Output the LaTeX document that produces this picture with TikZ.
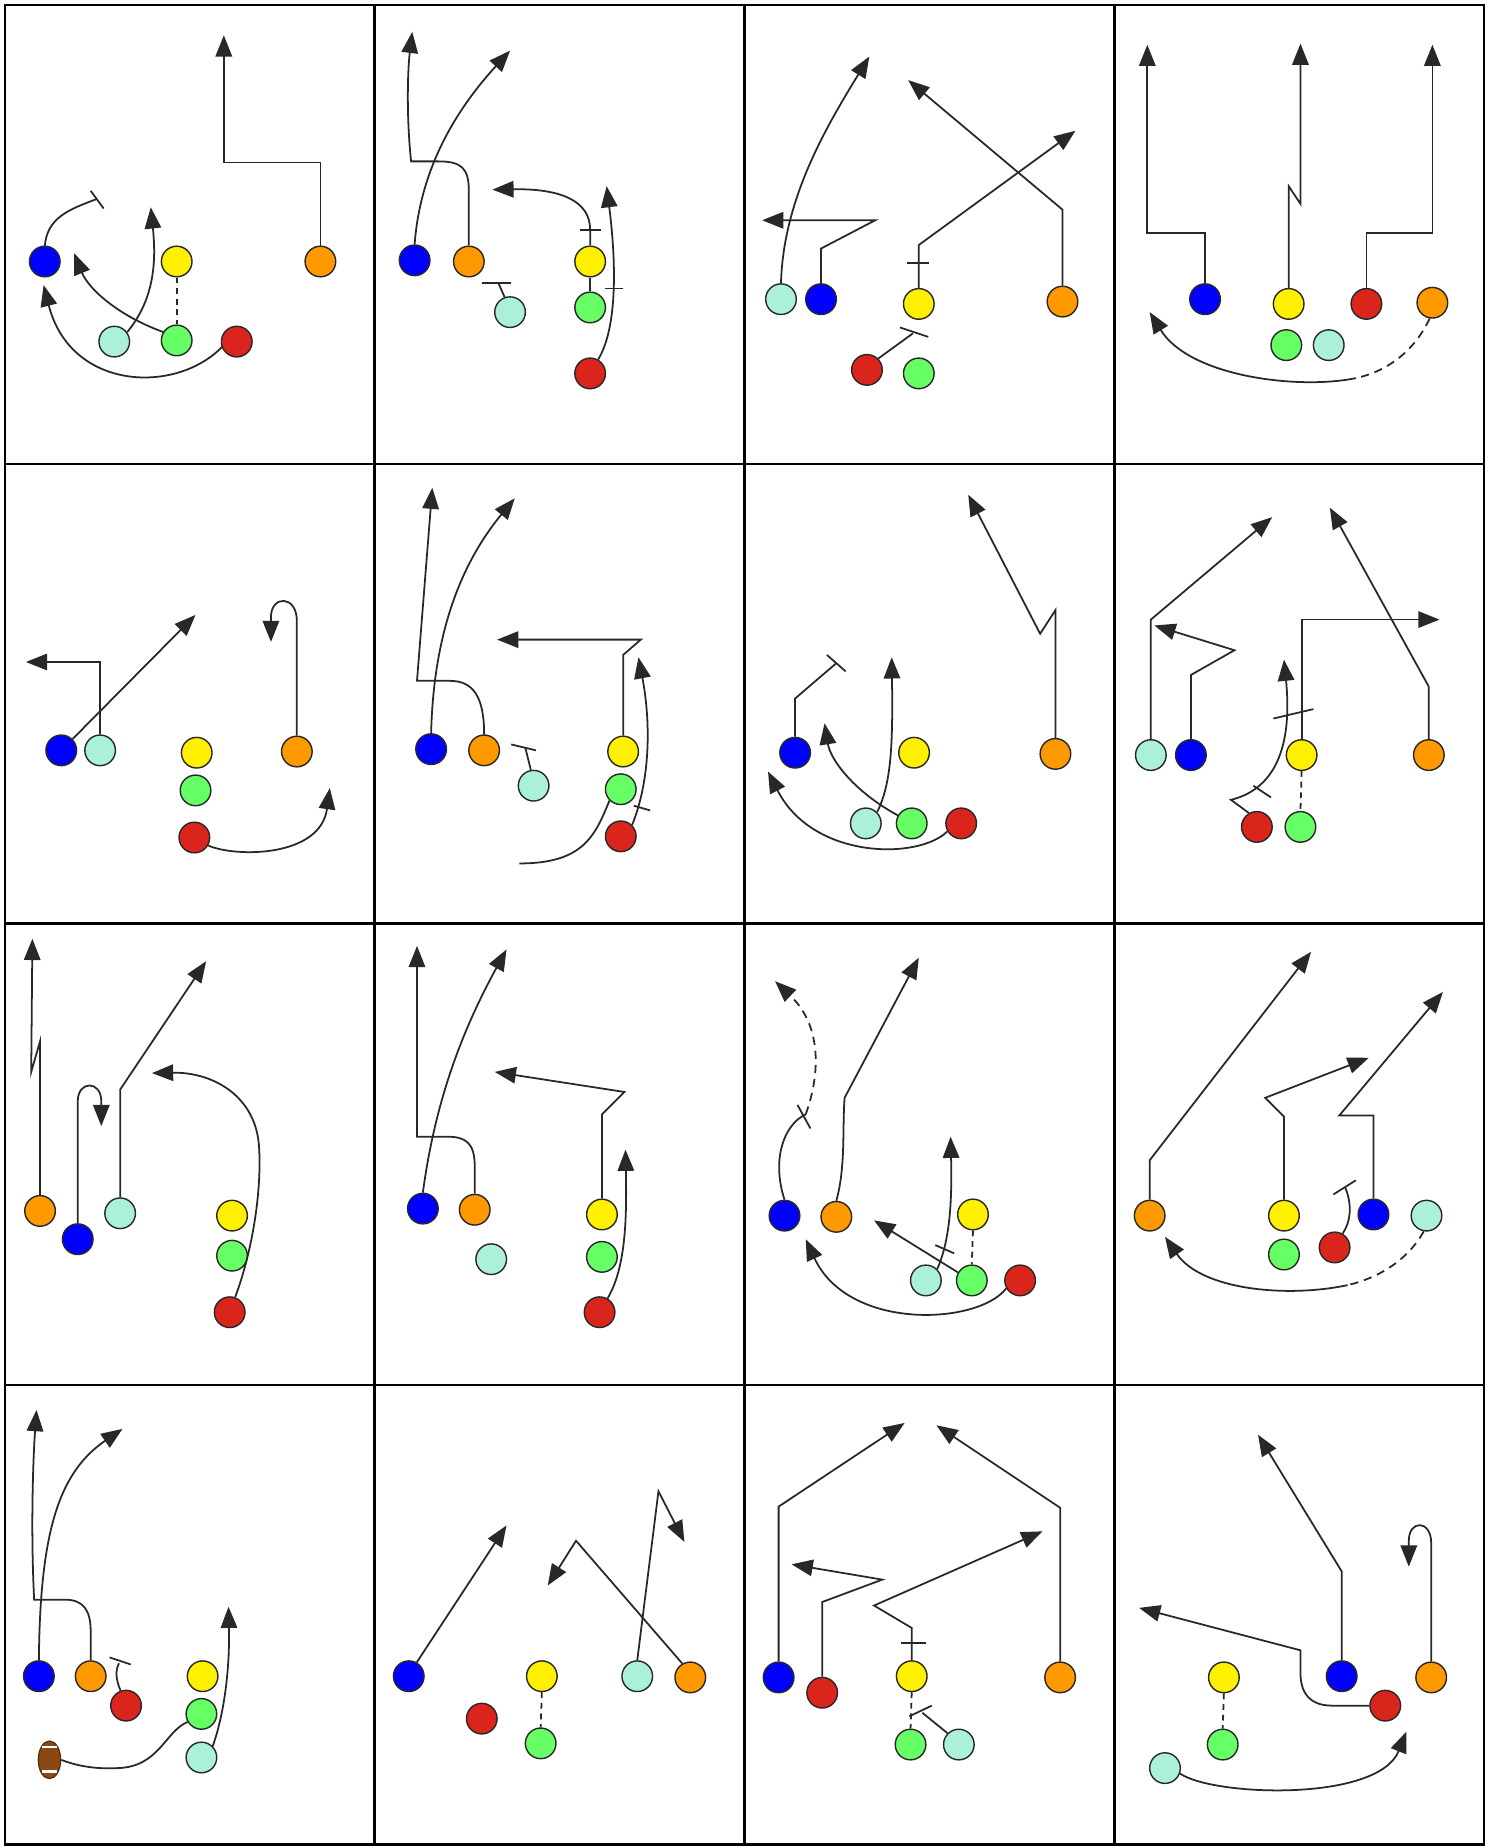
\documentclass[tikz,border=0pt]{standalone}
\usetikzlibrary{arrows.meta,shapes.geometric}
\definecolor{pB}{RGB}{0,0,255}
\definecolor{pY}{RGB}{255,240,0}
\definecolor{pO}{RGB}{255,153,0}
\definecolor{pR}{RGB}{218,37,29}
\definecolor{pG}{RGB}{102,255,102}
\definecolor{pC}{RGB}{170,240,218}
\definecolor{ln}{RGB}{40,40,40}
\definecolor{ballc}{RGB}{139,72,18}
\begin{document}
\begin{tikzpicture}[x=0.5pt,y=-0.5pt,
 pl/.style={circle,draw=ln,line width=0.6pt,minimum size=13pt,inner sep=0pt},
 route/.style={draw=ln,line width=0.75pt},
 arr/.style={route,-{Triangle[length=9pt,width=7pt]}},
 dsh/.style={route,dash pattern=on 2.5pt off 2pt},
 dshb/.style={route,dash pattern=on 3.5pt off 2.5pt},
 gridl/.style={draw=black,line width=1pt},
 ball/.style={ellipse,draw=ballc!60!black,line width=0.5pt,fill=ballc,minimum width=9.5pt,minimum height=16pt,inner sep=0pt}]
\useasboundingbox (0,0) rectangle (1268,1568);
\fill[white] (0,0) rectangle (1268,1568);
% grid
\draw[gridl] (4,4) rectangle (1260,1566);
\draw[gridl] (318,4) -- (318,1566) (632,4) -- (632,1566) (946,4) -- (946,1566);
\draw[gridl] (4,394) -- (1260,394) (4,784) -- (1260,784) (4,1176) -- (1260,1176);

% ---------- cell 1 ----------
\draw[arr] (272,209) -- (272,138) -- (190,138) -- (190,30);
\draw[route] (38,209) .. controls (40,185) and (58,178) .. (82,169);
\draw[route] (77,162) -- (88,177);
\draw[arr] (108,282) .. controls (130,255) and (133,225) .. (128,176);
\draw[arr] (139,282) .. controls (100,268) and (75,245) .. (63,215);
\draw[arr] (189,294) .. controls (150,335) and (60,332) .. (37,242);
\node[pl,fill=pB] (ab) at (38,222) {};
\node[pl,fill=pY] (ay) at (150,222) {};
\node[pl,fill=pO] (ao) at (272,222) {};
\node[pl,fill=pC] (ac) at (97,290) {};
\node[pl,fill=pG] (ag) at (150,289) {};
\node[pl,fill=pR] (ar) at (201,290) {};
\draw[dsh] (ay.south) -- (ag.north);

% ---------- cell 2 ----------
\node[pl,fill=pB] (bb) at (352,221) {};
\node[pl,fill=pO] (bo) at (398,222) {};
\node[pl,fill=pC] (bc) at (433,265) {};
\node[pl,fill=pY] (by) at (501,222) {};
\node[pl,fill=pG] (bg) at (501,261) {};
\node[pl,fill=pR] (br) at (501,317) {};
\draw[arr] (bb.north) .. controls (357,140) and (390,90) .. (433,43);
\draw[arr] (bo.north) -- (398,162) .. controls (398,143) and (392,137) .. (372,137) -- (349,137) .. controls (345,100) and (346,60) .. (350,27);
\draw[route] (bc.110) -- (423,240);
\draw[route] (409,240) -- (434,240);
\draw[arr] (by.north) -- (501,195) .. controls (501,170) and (475,160) .. (418,161);
\draw[route] (492,195) -- (510,195);
\draw[route] (by.south) -- (bg.north);
\draw[arr] (br.60) .. controls (523,280) and (524,230) .. (515,158);
\draw[route] (514,245) -- (529,245);

% ---------- cell 3 ----------
\node[pl,fill=pC] (cc) at (663,254) {};
\node[pl,fill=pB] (cb) at (697,254) {};
\node[pl,fill=pY] (cy) at (780,258) {};
\node[pl,fill=pO] (co) at (902,256) {};
\node[pl,fill=pR] (cr) at (736,314) {};
\node[pl,fill=pG] (cg) at (780,317) {};
\draw[arr] (cc.north) .. controls (665,170) and (700,110) .. (738,48);
\draw[arr] (cb.north) -- (697,211) -- (743,187) -- (647,187);
\draw[arr] (cy.north) -- (780,208) -- (913,111);
\draw[route] (770,223) -- (789,223);
\draw[arr] (co.north) -- (902,178) -- (771,68);
\draw[route] (cr.45) -- (775,283);
\draw[route] (764,278) -- (788,286);

% ---------- cell 4 ----------
\node[pl,fill=pB] (db) at (1023,254) {};
\node[pl,fill=pY] (dy) at (1094,258) {};
\node[pl,fill=pR] (dr) at (1160,258) {};
\node[pl,fill=pO] (do) at (1216,257) {};
\node[pl,fill=pG] (dg) at (1092,293) {};
\node[pl,fill=pC] (dc) at (1128,293) {};
\coordinate (dj) at (1151,321);
\draw[arr] (db.north) -- (1023,198) -- (974,198) -- (974,38);
\draw[arr] (dy.north) -- (1094,158) -- (1104,173) -- (1104,37);
\draw[arr] (dr.north) -- (1160,198) -- (1216,198) -- (1216,38);
\draw[dshb] (do.-100) .. controls (1200,300) and (1175,316) .. (dj);
\draw[arr] (dj) .. controls (1103,331) and (1010,320) .. (976,265);

% ---------- cell 5 ----------
\node[pl,fill=pB] (eb) at (52,637) {};
\node[pl,fill=pC] (ec) at (85,637) {};
\node[pl,fill=pY] (ey) at (167,639) {};
\node[pl,fill=pO] (eo) at (252,638) {};
\node[pl,fill=pG] (eg) at (166,671) {};
\node[pl,fill=pR] (er) at (165,711) {};
\draw[arr] (eb.45) -- (166,522);
\draw[arr] (ec.north) -- (85,562) -- (22,562);
\draw[arr] (eo.north) -- (252,527) .. controls (252,505) and (230,505) .. (230,524) -- (230,545);
\draw[arr] (er.-30) .. controls (200,728) and (272,728) .. (280,669);

% ---------- cell 6 ----------
\node[pl,fill=pB] (fb) at (366,636) {};
\node[pl,fill=pO] (fo) at (411,637) {};
\node[pl,fill=pC] (fc) at (453,667) {};
\node[pl,fill=pY] (fy) at (529,638) {};
\node[pl,fill=pG] (fg) at (527,670) {};
\node[pl,fill=pR] (fr) at (527,710) {};
\draw[arr] (fb.north) .. controls (368,540) and (390,480) .. (437,423);
\draw[arr] (fo.north) .. controls (411,592) and (402,578) .. (382,578) -- (354,578) -- (367,414);
\draw[route] (fc.100) -- (446,635);
\draw[route] (434,632) -- (455,637);
\draw[arr] (fy.north) -- (529,556) -- (544,543) -- (422,543);
\draw[route] (fg.225) .. controls (505,710) and (495,733) .. (441,733);
\draw[arr] (fr.45) .. controls (553,660) and (552,610) .. (542,558);
\draw[route] (538,684) -- (552,688);

% ---------- cell 7 ----------
\node[pl,fill=pB] (gb) at (675,639) {};
\node[pl,fill=pY] (gy) at (776,639) {};
\node[pl,fill=pO] (go) at (896,640) {};
\node[pl,fill=pC] (gc) at (735,699) {};
\node[pl,fill=pG] (gg) at (774,699) {};
\node[pl,fill=pR] (gr) at (816,699) {};
\draw[route] (gb.north) -- (675,593) -- (710,563);
\draw[route] (702,556) -- (718,570);
\draw[arr] (gc.45) .. controls (757,665) and (758,630) .. (757,558);
\draw[arr] (gg.150) .. controls (725,672) and (705,645) .. (700,614);
\draw[arr] (gr.210) .. controls (780,730) and (690,730) .. (652,655);
\draw[arr] (go.north) -- (896,518) -- (883,538) -- (822,420);

% ---------- cell 8 ----------
\node[pl,fill=pC] (hc) at (977,641) {};
\node[pl,fill=pB] (hb) at (1011,641) {};
\node[pl,fill=pY] (hy) at (1105,641) {};
\node[pl,fill=pO] (ho) at (1213,641) {};
\node[pl,fill=pR] (hr) at (1067,702) {};
\node[pl,fill=pG] (hg) at (1104,702) {};
\draw[arr] (hc.north) -- (977,526) -- (1080,439);
\draw[arr] (hb.north) -- (1011,573) -- (1048,552) -- (980,531);
\draw[arr] (hy.north) -- (1105,526) -- (1222,526);
\draw[route] (1081,610) -- (1115,602);
\draw[arr] (hr.120) -- (1045,679) .. controls (1090,668) and (1096,620) .. (1090,560);
\draw[route] (1064,667) -- (1079,677);
\draw[dsh] (hy.south) -- (hg.north);
\draw[arr] (ho.north) -- (1213,583) -- (1129,431);

% ---------- cell 9 ----------
\node[pl,fill=pO] (io) at (34,1028) {};
\node[pl,fill=pB] (ib) at (66,1052) {};
\node[pl,fill=pC] (ic) at (102,1030) {};
\node[pl,fill=pY] (iy) at (197,1032) {};
\node[pl,fill=pG] (ig) at (197,1066) {};
\node[pl,fill=pR] (ir) at (195,1114) {};
\draw[arr] (io.north) -- (34,884) -- (26.5,910) -- (27.5,797);
\draw[arr] (ib.north) -- (66,935) .. controls (66,917) and (86,917) .. (86,935) -- (86,956);
\draw[arr] (ic.north) -- (102,925) -- (175,816);
\draw[arr] (ir.70) .. controls (215,1060) and (222,1010) .. (220,975) .. controls (218,930) and (180,910) .. (129,911);

% ---------- cell 10 ----------
\node[pl,fill=pB] (jb) at (359,1026) {};
\node[pl,fill=pO] (jo) at (403,1027) {};
\node[pl,fill=pC] (jc) at (417,1069) {};
\node[pl,fill=pY] (jy) at (511,1031) {};
\node[pl,fill=pG] (jg) at (511,1067) {};
\node[pl,fill=pR] (jr) at (509,1114) {};
\draw[arr] (jb.north) .. controls (370,930) and (395,870) .. (430,806);
\draw[arr] (jo.north) -- (403,990) .. controls (403,971) and (396,965) .. (380,965) -- (354,965) -- (354,803);
\draw[arr] (jy.north) -- (511,946) -- (530,927) -- (420,910);
\draw[arr] (jr.60) .. controls (532,1075) and (532,1030) .. (531,976);

% ---------- cell 11 ----------
\node[pl,fill=pB] (kb) at (666,1032) {};
\node[pl,fill=pO] (ko) at (710,1033) {};
\node[pl,fill=pY] (ky) at (826,1031) {};
\node[pl,fill=pC] (kc) at (786,1087) {};
\node[pl,fill=pG] (kg) at (825,1087) {};
\node[pl,fill=pR] (kr) at (866,1087) {};
\coordinate (kj) at (684,946);
\draw[route] (kb.north) .. controls (655,985) and (665,955) .. (kj);
\draw[route] (677,938) -- (688,958);
\draw[arr,dash pattern=on 3.5pt off 2.5pt] (kj) .. controls (697,910) and (697,870) .. (658,833);
\draw[arr] (ko.north) .. controls (718,990) and (715,960) .. (717,932) -- (780,813);
\draw[dsh] (ky.south) -- (kg.north);
\draw[arr] (kc.45) .. controls (808,1050) and (808,1010) .. (807,965);
\draw[route] (794,1057) -- (810,1064);
\draw[arr] (kg.150) -- (742,1036);
\draw[arr] (kr.210) .. controls (830,1125) and (720,1130) .. (684,1052);

% ---------- cell 12 ----------
\node[pl,fill=pO] (lo) at (976,1032) {};
\node[pl,fill=pY] (ly) at (1090,1032) {};
\node[pl,fill=pB] (lb) at (1166,1031) {};
\node[pl,fill=pC] (lc) at (1211,1032) {};
\node[pl,fill=pG] (lg) at (1090,1065) {};
\node[pl,fill=pR] (lr) at (1133,1059) {};
\coordinate (lj) at (1144,1091);
\draw[arr] (lo.north) -- (976,985) -- (1113,808);
\draw[arr] (ly.north) -- (1090,948) -- (1074,932) -- (1162,898);
\draw[arr] (lb.north) -- (1166,947) -- (1137,947) -- (1225,842);
\draw[route] (lr.60) .. controls (1148,1035) and (1147,1020) .. (1142,1008);
\draw[route] (1132,1014) -- (1151,1002);
\draw[dshb] (lc.-100) .. controls (1195,1070) and (1170,1085) .. (lj);
\draw[arr] (lj) .. controls (1092,1102) and (1020,1095) .. (989,1050);

% ---------- cell 13 ----------
\node[pl,fill=pB] (mb) at (33,1423) {};
\node[pl,fill=pO] (mo) at (77,1423) {};
\node[pl,fill=pR] (mr) at (107,1448) {};
\node[pl,fill=pY] (my) at (172,1423) {};
\node[pl,fill=pG] (mg) at (171,1455) {};
\node[pl,fill=pC] (mc) at (171,1492) {};
\node[ball] (mf) at (42,1494) {};
\draw[white,line width=1pt] (36,1483) -- (48,1483) (36,1504) -- (48,1504);
\draw[arr] (mb.north) .. controls (34,1300) and (50,1250) .. (104,1213);
\draw[arr] (mo.north) -- (77,1385) .. controls (77,1366) and (70,1358) .. (55,1358) -- (29,1358) .. controls (26,1300) and (28,1240) .. (31,1197);
\draw[route] (mr.110) .. controls (98,1425) and (98,1418) .. (101,1412);
\draw[route] (93,1407) -- (111,1413);
\draw[route] (mg.210) .. controls (140,1470) and (135,1500) .. (100,1501) .. controls (80,1502) and (65,1499) .. (mf.east);
\draw[arr] (mc.45) .. controls (192,1450) and (195,1410) .. (194,1364);

% ---------- cell 14 ----------
\node[pl,fill=pB] (nb) at (347,1423) {};
\node[pl,fill=pY] (ny) at (460,1423) {};
\node[pl,fill=pC] (nc) at (541,1423) {};
\node[pl,fill=pO] (no) at (586,1424) {};
\node[pl,fill=pR] (nr) at (409,1459) {};
\node[pl,fill=pG] (ng) at (459,1480) {};
\draw[arr] (nb.60) -- (430,1295);
\draw[arr] (nc.north) -- (559,1266) -- (581,1309);
\draw[arr] (no.120) -- (489,1308) -- (465,1346);
\draw[dsh] (ny.south) -- (ng.north);

% ---------- cell 15 ----------
\node[pl,fill=pB] (ob) at (661,1424) {};
\node[pl,fill=pR] (or) at (698,1437) {};
\node[pl,fill=pY] (oy) at (774,1423) {};
\node[pl,fill=pO] (oo) at (900,1424) {};
\node[pl,fill=pG] (og) at (773,1481) {};
\node[pl,fill=pC] (oc) at (814,1481) {};
\draw[arr] (ob.north) -- (661,1279) -- (768,1208);
\draw[arr] (or.north) -- (698,1360) -- (749,1341) -- (672,1328);
\draw[arr] (oy.north) -- (774,1382) -- (742,1363) -- (885,1300);
\draw[route] (765,1395) -- (786,1395);
\draw[arr] (oo.north) -- (900,1280) -- (795,1210);
\draw[dsh] (oy.south) -- (og.north);
\draw[route] (oc.135) -- (783,1454);
\draw[route] (772,1457) -- (791,1448);

% ---------- cell 16 ----------
\node[pl,fill=pY] (py) at (1039,1424) {};
\node[pl,fill=pB] (pb) at (1139,1423) {};
\node[pl,fill=pO] (po) at (1215,1424) {};
\node[pl,fill=pR] (pr) at (1176,1448) {};
\node[pl,fill=pG] (pg) at (1038,1481) {};
\node[pl,fill=pC] (pc) at (989,1501) {};
\draw[arr] (pb.north) -- (1139,1334) -- (1068,1218);
\draw[arr] (po.north) -- (1215,1310) .. controls (1215,1290) and (1196,1290) .. (1196,1308) -- (1196,1330);
\draw[arr] (pr.west) -- (1131,1448) .. controls (1110,1448) and (1104,1435) .. (1104,1420) -- (1104,1401) -- (967,1365);
\draw[arr] (pc.-20) .. controls (1030,1525) and (1170,1530) .. (1194,1470);
\draw[dsh] (py.south) -- (pg.north);
\end{tikzpicture}
\end{document}
